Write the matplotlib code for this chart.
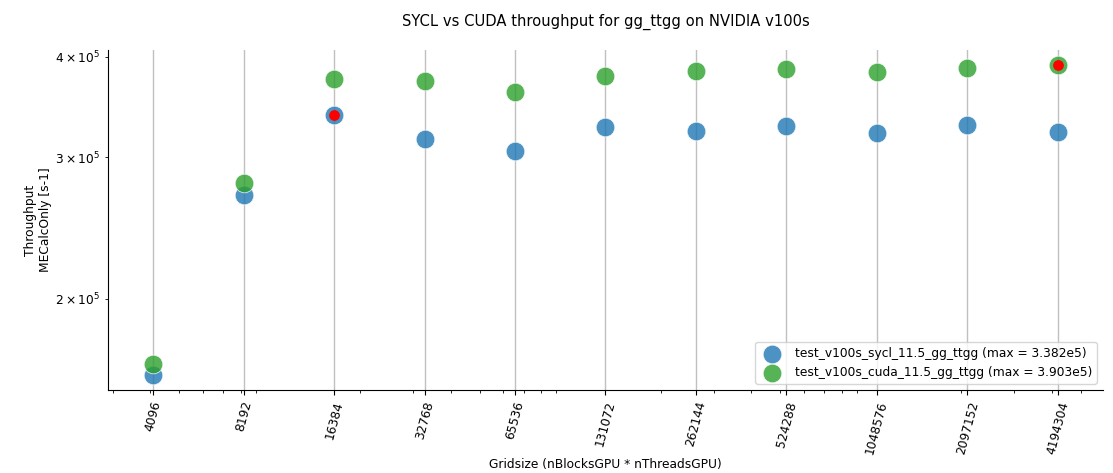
import matplotlib
matplotlib.use("Agg")
import matplotlib.pyplot as plt
from matplotlib.ticker import FixedLocator, FixedFormatter
import numpy as np

gridsize = [4096, 8192, 16384, 32768, 65536, 131072, 262144, 524288, 1048576, 2097152, 4194304]
sycl = [1.611e5, 2.696e5, 3.382e5, 3.159e5, 3.052e5, 3.270e5, 3.232e5, 3.279e5, 3.214e5, 3.289e5, 3.224e5]
cuda = [1.658e5, 2.791e5, 3.755e5, 3.733e5, 3.617e5, 3.787e5, 3.842e5, 3.864e5, 3.831e5, 3.876e5, 3.903e5]
sycl_label = "test_v100s_sycl_11.5_gg_ttgg"
cuda_label = "test_v100s_cuda_11.5_gg_ttgg"

plt.rcParams["font.size"] = 8.85

fig = plt.figure(figsize=(11.13, 4.73), dpi=100)
ax = fig.add_axes([0.097, 0.1755, 0.894, 0.719])

series = [(sycl, sycl_label, "#1f77b4"), (cuda, cuda_label, "#2ca02c")]
for vals, lab, col in series:
    ax.scatter(gridsize, vals, s=180, color=col, alpha=0.8, edgecolors="white",
               linewidths=0.6, label=f"{lab} (max = {max(vals):.3e})".replace("e+0", "e"), zorder=3)
for vals, lab, col in series:
    i = int(np.argmax(vals))
    ax.scatter([gridsize[i]], [vals[i]], s=45, color="red", zorder=4)

ax.set_xscale("log")
ax.set_yscale("log")
ax.xaxis.set_major_locator(FixedLocator(gridsize))
ax.xaxis.set_major_formatter(FixedFormatter([str(g) for g in gridsize]))
for t in ax.get_xticklabels():
    t.set_rotation(75)
ax.grid(True, axis="x", which="major", color="#c0c0c0", linewidth=1, zorder=0)
ax.set_axisbelow(True)
ax.spines["top"].set_visible(False)
ax.spines["right"].set_visible(False)

ax.set_title("SYCL vs CUDA throughput for gg_ttgg on NVIDIA v100s", fontsize=10.6, pad=17)
ax.set_xlabel("Gridsize (nBlocksGPU * nThreadsGPU)")
ax.set_ylabel("Throughput\nMECalcOnly [s-1]")
ax.yaxis.set_label_coords(-0.056, 0.5)
ax.xaxis.set_label_coords(0.5, -0.2)
ax.legend(loc="lower right")

fig.savefig("out.png", dpi=100)
